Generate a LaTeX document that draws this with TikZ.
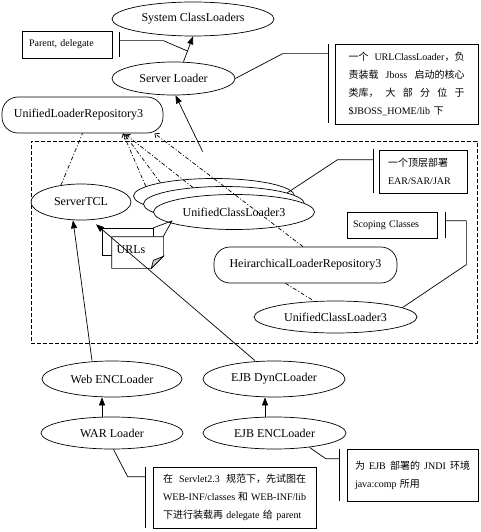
\documentclass[tikz,border=0pt]{standalone}
\usepackage{fontspec}
\setmainfont{Liberation Serif}
\newfontfamily\cjk{Noto Sans CJK SC}
\usetikzlibrary{shapes.geometric,arrows.meta,calc}
\newcommand\fullline[1]{\leavevmode\hbox to\hsize{#1}}
\tikzset{
  every path/.style={line width=0.7pt},
  ell/.style={draw, ellipse, inner sep=0pt, fill=white, font=\fontsize{12}{14}\selectfont},
  rrect/.style={draw, rectangle, rounded corners=16pt, inner sep=0pt, fill=white, font=\fontsize{12}{14}\selectfont},
  notebox/.style={draw, rectangle, inner ysep=0pt, fill=white, font=\fontsize{10}{18}\selectfont, align=left},
  dd/.style={dash pattern=on 4pt off 2pt on 1pt off 2pt},
  grpline/.style={dash pattern=on 4pt off 2pt},
  solidarrow/.style={-{Triangle[length=8pt,width=6pt]}},
  openarrow/.style={-{Straight Barb[length=3.5pt,width=6pt]}},
}
\begin{document}
\begin{tikzpicture}[x=1pt,y=-1pt]
\useasboundingbox (0,0) rectangle (481,532);

% group
\node[draw, grpline, minimum width=446pt, minimum height=202pt, inner sep=0pt] (grp) at (254,242) {};

% main nodes
\node[ell, minimum width=162pt, minimum height=34pt] (sys) at (193,19) {System ClassLoaders};
\node[ell, minimum width=123pt, minimum height=33pt] (srv) at (173.5,78.5) {Server Loader};
\node[rrect, minimum width=161pt, minimum height=36pt] (ulr) at (82.5,115) {UnifiedLoaderRepository3\hspace*{8pt}};
\node[ell, minimum width=100pt, minimum height=36pt] (stcl) at (81,202) {ServerTCL};
\node[ell, minimum width=161pt, minimum height=35pt] (uclc) at (214,196) {};
\node[ell, minimum width=161pt, minimum height=35pt] (uclb) at (224,204) {};
\node[ell, minimum width=161pt, minimum height=35pt] (ucla) at (234,212) {UnifiedClassLoader3};
\node[rrect, minimum width=183pt, minimum height=36pt] (hlr) at (305.5,265) {HeirarchicalLoaderRepository3};
\node[ell, minimum width=163pt, minimum height=32pt] (ucll) at (335.5,317) {UnifiedClassLoader3};
\node[ell, minimum width=140pt, minimum height=36pt] (webenc) at (112,379) {Web ENCLoader};
\node[ell, minimum width=142pt, minimum height=36pt] (ejbdyn) at (274,379) {EJB DynCLoader};
\node[ell, minimum width=142pt, minimum height=32pt] (war) at (112,433) {WAR Loader};
\node[ell, minimum width=143pt, minimum height=32pt] (ejbenc) at (274.5,433) {EJB ENCLoader};

% URLs documents
\coordinate (uclpt) at ($(ucla.south)+(-62,-9)$);
\draw (uclpt) -- (153,228);
\draw (uclpt) -- (163,237);
\node[draw, fill=white, minimum width=51pt, minimum height=27pt, inner sep=0pt] (urlb) at (127.5,241.5) {};
\node[minimum width=51pt, minimum height=31pt, inner sep=0pt] (urlf) at (137.5,252.5) {};
\draw[fill=white] (urlf.north west) -- (urlf.north east) -- ($(urlf.south east)+(0,-12)$) -- ($(urlf.south east)+(-12,0)$) -- (urlf.south west) -- cycle;
\draw[fill=gray!35] ($(urlf.south east)+(-12,0)$) -- ($(urlf.south east)+(0,-12)$) -- ($(urlf.south east)+(-10,-8)$) -- cycle;
\node[font=\fontsize{12}{14}\selectfont, inner sep=0pt] (urls) at (131,250) {URLs};

% notes
\node[notebox, minimum width=90pt, minimum height=27pt, text width=76pt, inner xsep=7pt] (pd) at (67,44.5) {Parent, delegate};
\node[notebox, minimum width=143pt, minimum height=80pt, text width=116pt, inner xsep=6pt] (n1) at (406.5,84) {%
\fullline{{\cjk 一个}\hfil URLClassLoader{\cjk ，负}}\\
\fullline{{\cjk 责装载}\hfil Jboss\hfil{\cjk 启动的核心}}\\
\fullline{{\cjk 类库，}\hfil{\cjk 大}\hfil{\cjk 部}\hfil{\cjk 分}\hfil{\cjk 位}\hfil{\cjk 于}}\\
\$JBOSS\_HOME/lib {\cjk 下}};
\node[notebox, minimum width=88pt, minimum height=43pt, text width=70pt, inner xsep=6pt] (n2) at (423,171.5) {{\cjk 一个顶层部署}\\EAR/SAR/JAR};
\node[notebox, minimum width=90pt, minimum height=26pt, text width=78pt, inner xsep=6pt] (sc) at (392,225) {Scoping Classes};
\node[notebox, minimum width=163pt, minimum height=61pt, text width=143pt, inner xsep=6pt] (wn) at (234.5,497.5) {%
\fullline{{\cjk 在}\hfil Servlet2.3\hfil{\cjk 规范下，先试图在}}\\
\fullline{WEB-INF/classes\hfil{\cjk 和}\hfil WEB-INF/lib}\\
{\cjk 下进行装载再} delegate {\cjk 给} parent};
\node[notebox, minimum width=131pt, minimum height=52pt, text width=115pt, inner xsep=6pt] (en) at (412.5,475) {%
\fullline{{\cjk 为}\hfil EJB\hfil{\cjk 部署的}\hfil JNDI\hfil{\cjk 环境}}\\
java:comp {\cjk 所用}};

% callouts
\draw ($(pd.north east)+(7,1)$) -- ($(pd.south east)+(7,-1)$);
\coordinate (pdend) at ($($(srv.north)+(10,0)$)!0.42!(sys.south)$);
\draw ($(pd.north east)+(7,10)$) -- ++(44,0) -- (pdend);
\draw ($(n1.north west)+(-6,0)$) -- ($(n1.south west)+(-6,-1)$);
\draw ($(n1.north west)+(-6,10)$) -- ++(-46,0) -- (srv.east);
\draw ($(n2.north west)+(-5,-1)$) -- ($(n2.south west)+(-5,0)$);
\draw ($(n2.north west)+(-5,10)$) -- ++(-36,0) -- (uclb.10);
\draw ($(sc.north east)+(8,0)$) -- ($(sc.south east)+(8,0)$);
\draw ($(sc.north east)+(8,9)$) -- ++(21,0) -- ++(0,44) -- (ucll.8);
\draw ($(wn.north west)+(-7,0)$) -- ($(wn.south west)+(-7,0)$);
\draw ($(wn.north west)+(-7,10)$) -- ++(-18,0) -- (war.-85);
\draw ($(en.north west)+(-7,0)$) -- ($(en.south west)+(-7,0)$);
\draw ($(en.north west)+(-7,10)$) -- ++(-14,0) -- ($(ejbenc.south)+(35,-2)$);

% dash-dot relations to repositories
\draw[dd] (stcl.140) -- (ulr.south);
\draw[dd, openarrow] (uclc.172) -- ($(ulr.south)+(40.5,0)$);
\draw[dd, openarrow] (uclc.166) -- ($(ulr.south)+(42,1)$);
\draw[dd, openarrow] (uclb.152) -- ($(ulr.south)+(43,1)$);
\draw[dd] ($(hlr.south)+(-20,0)$) -- ($(ucll.north)+(-22,0)$);
\draw[dd, openarrow] ($(hlr.north)+(-2.5,0)$) -- ($(ulr.south)+(72,0)$);

% parent arrows
\draw[solidarrow] ($(srv.north)+(10,0)$) -- (sys.south);
\draw[solidarrow] ($(grp.north west)+(172,11)$) -- ($(srv.south)+(2,0)$);
\draw[solidarrow] ($(webenc.north)+(-20,0)$) -- ($(stcl.south)+(-8,0)$);
\draw[solidarrow] ($(ejbdyn.north)+(-19,0)$) -- ($(stcl.south)+(15,4)$);
\draw[solidarrow] ($(war.north)+(-10,0)$) -- ($(webenc.south)+(-10,0)$);
\draw[solidarrow] ($(ejbenc.north)+(-9.5,0)$) -- ($(ejbdyn.south)+(-9,0)$);
\end{tikzpicture}
\end{document}
